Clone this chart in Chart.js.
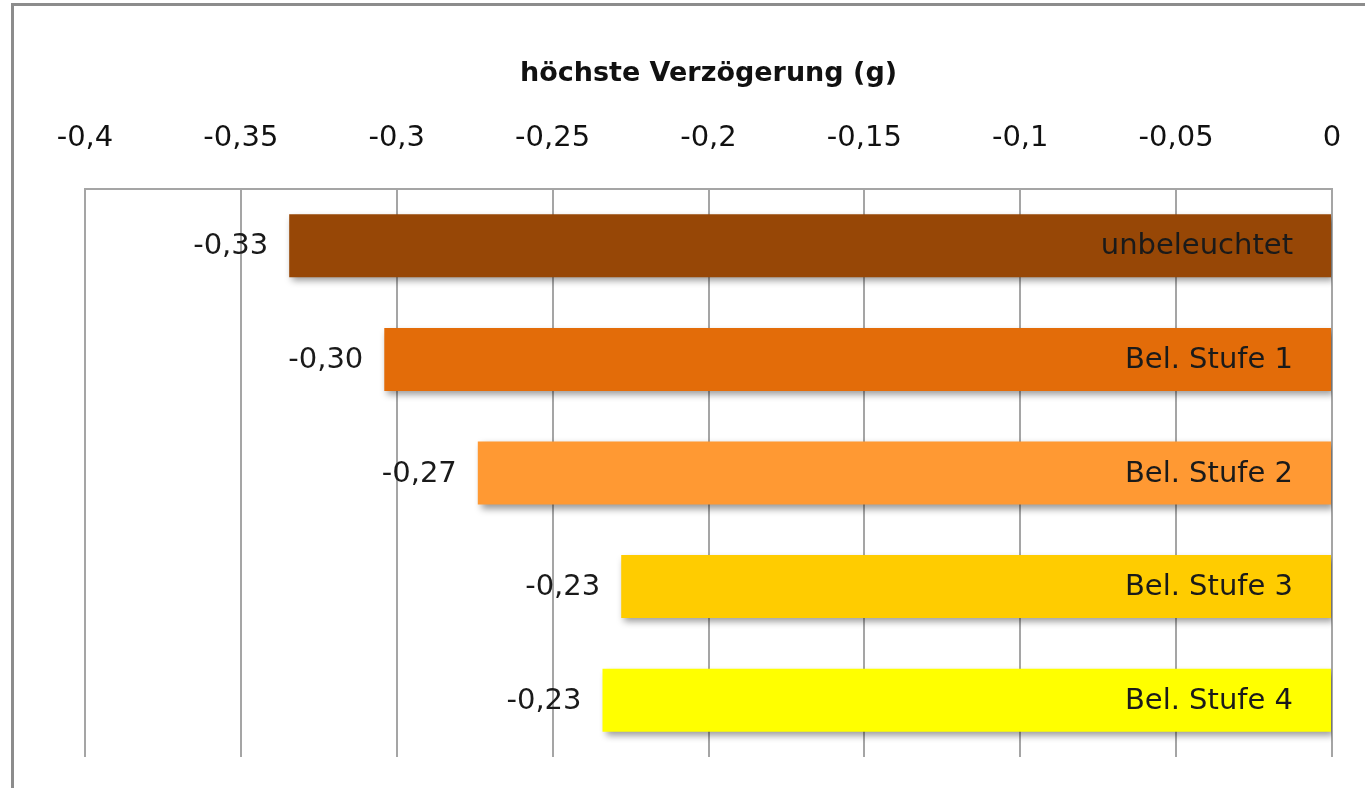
<!DOCTYPE html>
<html>
<head>
<meta charset="utf-8">
<script src="https://cdn.jsdelivr.net/npm/chart.js@4/dist/chart.umd.min.js"></script>
<style>
  html, body { margin: 0; padding: 0; background: #ffffff; }
  #wrap { width: 1365px; height: 788px; position: relative; }
  canvas { display: block; }
</style>
</head>
<body>
<div id="wrap"><canvas id="c" width="1365" height="788"></canvas></div>
<script>
// Highest deceleration (g) per lighting stage
const categories = ['unbeleuchtet', 'Bel. Stufe 1', 'Bel. Stufe 2', 'Bel. Stufe 3', 'Bel. Stufe 4'];
const decelValues = [-0.3345, -0.304, -0.274, -0.228, -0.234];
const barColors = ['#974706', '#E36C09', '#FF9933', '#FFCC00', '#FFFF00'];
const axisTitle = 'höchste Verzögerung (g)';

const FONT = "'DejaVu Sans', sans-serif";
const fmt = v => Number(v.toFixed(2)).toString().replace('.', ',');
const fmt2 = v => v.toFixed(2).replace('.', ',');

// Outer frame of the chart box
const framePlugin = {
  id: 'frame',
  beforeDraw(chart) {
    const ctx = chart.ctx;
    ctx.save();
    ctx.fillStyle = '#ffffff';
    ctx.fillRect(0, 0, chart.width, chart.height);
    ctx.strokeStyle = '#8c8c8c';
    ctx.lineWidth = 3;
    ctx.beginPath();
    ctx.moveTo(12.5, chart.height + 5);
    ctx.lineTo(12.5, 4.5);
    ctx.lineTo(chart.width + 5, 4.5);
    ctx.stroke();
    ctx.restore();
  }
};

// Soft drop shadow under bars
const shadowPlugin = {
  id: 'barShadow',
  beforeDatasetsDraw(chart) {
    const ctx = chart.ctx;
    ctx.save();
    ctx.shadowColor = 'rgba(0,0,0,0.4)';
    ctx.shadowBlur = 7;
    ctx.shadowOffsetX = 3;
    ctx.shadowOffsetY = 4;
  },
  afterDatasetsDraw(chart) {
    chart.ctx.restore();
  }
};

// Value labels left of each bar, category names inside the bar at its right end
const labelPlugin = {
  id: 'barLabels',
  afterDatasetsDraw(chart) {
    const ctx = chart.ctx;
    const meta = chart.getDatasetMeta(0);
    ctx.save();
    ctx.font = '29px ' + FONT;
    ctx.textBaseline = 'middle';
    ctx.fillStyle = '#1a1a1a';
    meta.data.forEach((bar, i) => {
      const v = chart.data.datasets[0].data[i];
      ctx.textAlign = 'right';
      ctx.fillText(fmt2(v), bar.x - 21, bar.y + 1);
      ctx.fillText(chart.data.labels[i], bar.base - 38, bar.y + 1);
    });
    ctx.restore();
  }
};

new Chart(document.getElementById('c'), {
  type: 'bar',
  data: {
    labels: categories,
    datasets: [{
      data: decelValues,
      backgroundColor: barColors,
      borderWidth: 0,
      categoryPercentage: 1.0,
      barPercentage: 0.555
    }]
  },
  options: {
    indexAxis: 'y',
    responsive: false,
    animation: false,
    devicePixelRatio: 1,
    layout: { padding: { left: 85, right: 33, top: 0, bottom: 31 } },
    plugins: {
      legend: { display: false },
      tooltip: { enabled: false },
      title: { display: false }
    },
    scales: {
      x: {
        position: 'top',
        min: -0.4,
        max: 0,
        afterFit(scale) {
          scale.height = 189;
          scale.paddingLeft = 0;
          scale.paddingRight = 0;
        },
        ticks: {
          stepSize: 0.05,
          padding: 33,
          color: '#111111',
          font: { family: FONT, size: 29 },
          callback: v => fmt(v)
        },
        grid: {
          drawTicks: false,
          color: '#a5a5a5',
          lineWidth: 2
        },
        border: { display: true, color: '#a5a5a5', width: 2 },
        title: {
          display: true,
          text: axisTitle,
          color: '#111111',
          font: { family: FONT, size: 27, weight: 'bold' },
          padding: { top: 58, bottom: 0 }
        }
      },
      y: {
        display: false
      }
    }
  },
  plugins: [framePlugin, shadowPlugin, labelPlugin]
});
</script>
</body>
</html>
